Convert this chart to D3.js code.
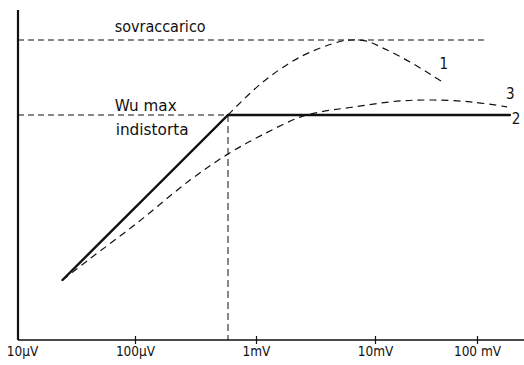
<!DOCTYPE html>
<html>
<head>
<meta charset="utf-8">
<script src="https://cdn.jsdelivr.net/npm/d3@7"></script>
<style>
  html, body { margin: 0; padding: 0; background: #fff; }
  svg { display: block; }
  text { font-family: "DejaVu Sans Condensed", "Liberation Sans Narrow", sans-serif; fill: #111; }
</style>
</head>
<body>
<svg id="chart" width="524" height="365"></svg>
<script>
// ---- data ----
const tickValues = [1e-5, 1e-4, 1e-3, 1e-2, 1e-1];
const tickLabels = ["10µV", "100µV", "1mV", "10mV", "100 mV"];

// curve 2: ideal limiter (solid)
const curve2V = [24e-6, 0.587e-3, 0.21];
const curve2W = [20, 75, 75];

// curve 1: overload (dashed)
const curve1V = [0.587e-3, 1.12e-3, 2.34e-3, 5.08e-3, 6.41e-3, 8.57e-3, 12e-3, 22e-3, 46e-3];
const curve1W = [75, 85.7, 94.3, 99.5, 100, 99.6, 97.3, 92.7, 86];

// curve 3: (dashed)
const curve3V = [24e-6, 40e-6, 104e-6, 285e-6, 587e-6, 1.12e-3, 2.34e-3, 3.45e-3, 6.17e-3, 16.4e-3, 37e-3, 91e-3, 197e-3];
const curve3W = [20, 26.7, 39, 53.3, 62, 68.3, 74.3, 76, 77.5, 79.6, 80, 79.3, 77.7];

const overloadLevel = 100;
const overloadEnd = 0.128;
const maxLevel = 75;
const kneeV = 0.587e-3;
const axisTop = 110;

const labelSovr = "sovraccarico";
const labelWu = "Wu max";
const labelInd = "indistorta";
const curveNames = ["1", "2", "3"];

// ---- drawing ----
const W = 524, H = 365;
const svg = d3.select("#chart");

const x = d3.scaleLog().domain(tickValues).range([18, 135, 256, 375, 477]);
const y = d3.scaleLinear().domain([0, 100]).range([340, 40]);

const ink = "#111";

// axes
svg.append("line")
  .attr("x1", x(tickValues[0])).attr("x2", x(tickValues[0]))
  .attr("y1", y(0)).attr("y2", y(axisTop))
  .attr("stroke", ink).attr("stroke-width", 2.2);

svg.append("line")
  .attr("x1", x(tickValues[0])).attr("x2", W)
  .attr("y1", y(0)).attr("y2", y(0))
  .attr("stroke", ink).attr("stroke-width", 1.4);

const xAxis = d3.axisBottom(x)
  .tickValues(tickValues)
  .tickFormat((d, i) => tickLabels[i])
  .tickSizeInner(4).tickSizeOuter(0);

const gx = svg.append("g").attr("transform", `translate(0,${y(0)})`).call(xAxis);
gx.select(".domain").remove();
gx.selectAll(".tick line")
  .attr("y1", -4).attr("y2", 4)
  .attr("stroke", ink).attr("stroke-width", 1.2)
  .attr("opacity", (d, i) => i === 0 ? 0 : 1);
gx.selectAll(".tick text")
  .attr("y", 16).attr("dy", 0)
  .attr("dx", (d, i) => i === 0 ? 4 : 0)
  .style("font-family", '"DejaVu Sans Condensed", sans-serif')
  .style("font-size", "13.5px")
  .attr("fill", ink);

// reference dashed lines
svg.append("line")
  .attr("x1", x(tickValues[0])).attr("x2", x(overloadEnd))
  .attr("y1", y(overloadLevel)).attr("y2", y(overloadLevel))
  .attr("stroke", ink).attr("stroke-width", 1).attr("stroke-dasharray", "6,4");

svg.append("line")
  .attr("x1", x(tickValues[0])).attr("x2", x(kneeV))
  .attr("y1", y(maxLevel)).attr("y2", y(maxLevel))
  .attr("stroke", ink).attr("stroke-width", 1).attr("stroke-dasharray", "6,4");

svg.append("line")
  .attr("x1", x(kneeV)).attr("x2", x(kneeV))
  .attr("y1", y(maxLevel)).attr("y2", y(0))
  .attr("stroke", ink).attr("stroke-width", 1).attr("stroke-dasharray", "7,4");

// curves
const mk = (V, Wv) => V.map((v, i) => [v, Wv[i]]);
const lineGen = d3.line().x(d => x(d[0])).y(d => y(d[1])).curve(d3.curveCatmullRom.alpha(0.5));
const lineStraight = d3.line().x(d => x(d[0])).y(d => y(d[1]));

svg.append("path").datum(mk(curve3V, curve3W))
  .attr("d", lineGen).attr("fill", "none")
  .attr("stroke", ink).attr("stroke-width", 1.2).attr("stroke-dasharray", "7,5");

svg.append("path").datum(mk(curve1V, curve1W))
  .attr("d", lineGen).attr("fill", "none")
  .attr("stroke", ink).attr("stroke-width", 1.2).attr("stroke-dasharray", "7,5");

svg.append("path").datum(mk(curve2V, curve2W))
  .attr("d", lineStraight).attr("fill", "none")
  .attr("stroke", ink).attr("stroke-width", 2.4).attr("stroke-linecap", "round");

// annotations
const labX = x(6.7e-5);
svg.append("text").attr("x", labX).attr("y", y(overloadLevel) - 8)
  .attr("font-size", 15).attr("textLength", 91).attr("lengthAdjust", "spacingAndGlyphs")
  .text(labelSovr);
svg.append("text").attr("x", labX).attr("y", y(maxLevel) - 4)
  .attr("font-size", 15).attr("textLength", 62).attr("lengthAdjust", "spacingAndGlyphs")
  .text(labelWu);
svg.append("text").attr("x", labX + 1).attr("y", y(maxLevel) + 20)
  .attr("font-size", 15).attr("textLength", 73).attr("lengthAdjust", "spacingAndGlyphs")
  .text(labelInd);

// curve numbers
const end1 = [curve1V[curve1V.length - 1], curve1W[curve1W.length - 1]];
const end2 = [curve2V[curve2V.length - 1], curve2W[curve2W.length - 1]];
const end3 = [curve3V[curve3V.length - 1], curve3W[curve3W.length - 1]];
svg.append("text").attr("x", x(end1[0]) - 3).attr("y", y(end1[1]) - 13)
  .attr("font-size", 15).text(curveNames[0]);
svg.append("text").attr("x", x(end2[0]) + 2).attr("y", y(end2[1]) + 9)
  .attr("font-size", 15).text(curveNames[1]);
svg.append("text").attr("x", x(end3[0]) - 1).attr("y", y(end3[1]) - 8)
  .attr("font-size", 15).text(curveNames[2]);
</script>
</body>
</html>
